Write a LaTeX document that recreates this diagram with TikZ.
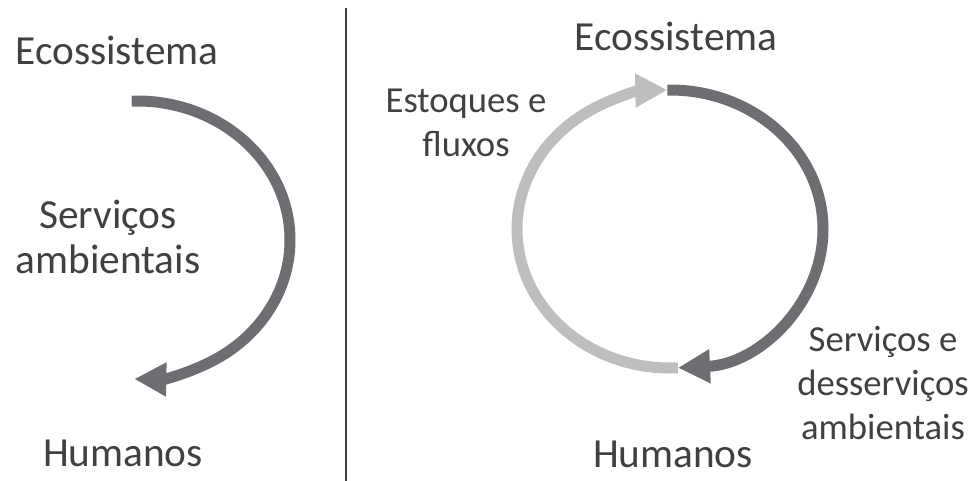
\documentclass[tikz,border=0pt]{standalone}
\usepackage{fontspec}
\setmainfont{Carlito}
\usetikzlibrary{arrows.meta}
\definecolor{txt}{HTML}{404040}
\definecolor{darkarc}{HTML}{6D6E71}
\definecolor{lightarc}{HTML}{BCBEC0}
\tikzset{
  lbl/.style={text=txt, font=\fontsize{31}{34}\selectfont, align=center, inner sep=0pt},
  slbl/.style={text=txt, font=\fontsize{27.5}{33}\selectfont, align=center, inner sep=0pt},
  arcline/.style={line width=8.25pt},
  tip/.style={-{Triangle[length=24pt,width=24pt]}}
}
\begin{document}
\begin{tikzpicture}[x=0.75pt,y=0.75pt]
\useasboundingbox (0,0) rectangle (972,-481);
% divider
\draw[txt, line width=1.5pt] (346,-8) -- (346,-481);
% left side
\node[lbl, anchor=base] (eco1) at (117,-65) {Ecossistema};
\node[lbl] (serv1) at (108,-237) {Serviços\\ambientais};
\node[lbl, anchor=base] (hum1) at (123,-466) {Humanos};
\draw[darkarc, arcline, tip] ([shift={(92:153 and 139)}]137,-240) arc[start angle=92, end angle=-91, x radius=153, y radius=139];
% right side
\node[lbl, anchor=base] (eco2) at (676,-51) {Ecossistema};
\node[slbl] (stk) at (466,-123) {Estoques e\\fluxos};
\node[slbl] (serv2) at (883,-383) {Serviços e\\desserviços\\ambientais};
\node[lbl, anchor=base] (hum2) at (673,-467) {Humanos};
\draw[lightarc, arcline, tip] ([shift={(273:153 and 139)}]670,-229) arc[start angle=273, end angle=91, x radius=153, y radius=139];
\draw[darkarc, arcline, tip] ([shift={(91:153 and 139)}]670,-229) arc[start angle=91, end angle=-87, x radius=153, y radius=139];
\end{tikzpicture}
\end{document}
